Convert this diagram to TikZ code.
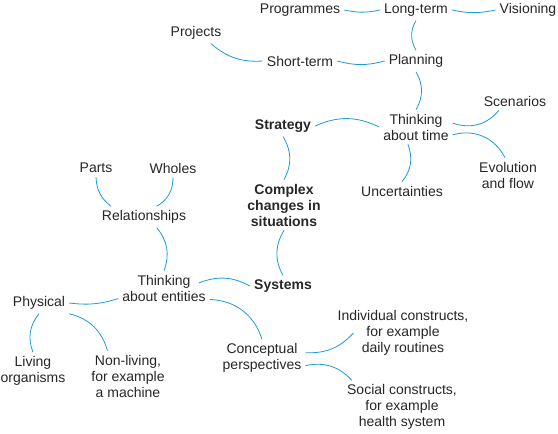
\documentclass[tikz,border=0pt]{standalone}
\usepackage{fontspec}
\setmainfont{Liberation Sans}
\usepackage{tikz}
\definecolor{linkblue}{RGB}{29,155,214}
\tikzset{
    concept/.style={align=center, inner sep=4pt, text=black!85,
        font=\fontsize{14}{16}\selectfont},
    keyconcept/.style={concept, font=\fontsize{14}{16}\selectfont\bfseries},
    link/.style={draw=linkblue, line width=0.8pt}
}
\newcommand{\drawV}[5][concept]{
    \node[#1] (#4) at (#2,-#3) {#5};
}
\newcommand{\drawE}[3][0]{
    \draw[link, bend left=#1] (#2) to (#3);
}

\begin{document}
\begin{tikzpicture}[x=1pt, y=1pt]
        \useasboundingbox (0,0) rectangle (558,-434);
        % Time branch
        \drawV{300}{10}{Programmes}{Programmes}
        \drawV{416}{10}{LongTerm}{Long-term}
        \drawV{528}{10}{Visioning}{Visioning}
        \drawV{196}{33}{Projects}{Projects}
        \drawV{300}{61}{ShortTerm}{Short-term}
        \drawV{416}{61}{Planning}{Planning}
        \drawV{515}{101}{Scenarios}{Scenarios}
        \drawV{416}{127}{TTime}{Thinking\\about time}
        \drawV{508}{175}{Evolution}{Evolution\\and flow}
        \drawV{402}{191}{Uncertainties}{Uncertainties}
        % Key ideas
        \drawV[keyconcept]{283}{126}{Strategy}{Strategy}
        \drawV[keyconcept]{284}{205}{Complex}{Complex\\changes in\\situations}
        \drawV[keyconcept]{283}{286}{Systems}{Systems}
        % Entities branch
        \drawV{96}{168}{Parts}{Parts}
        \drawV{173}{168}{Wholes}{Wholes}
        \drawV{144}{217}{Relationships}{Relationships}
        \drawV{164}{288}{TEntities}{Thinking\\about entities}
        \drawV{39}{303}{Physical}{Physical}
        \drawV{33}{371}{Living}{Living\\organisms}
        \drawV{128}{376}{NonLiving}{Non-living,\\for example\\a machine}
        \drawV{262}{358}{Conceptual}{Conceptual\\perspectives}
        \drawV{403}{333}{Individual}{Individual constructs,\\for example\\daily routines}
        \drawV{402}{407}{Social}{Social constructs,\\for example\\health system}
        % Connectors, time branch
        \drawE[-12]{Programmes.east}{LongTerm.west}
        \drawE[-12]{LongTerm.east}{Visioning.west}
        \drawE[-30]{LongTerm.south}{Planning.north}
        \drawE[-22]{[xshift=15pt]Projects.south}{ShortTerm.west}
        \drawE[-15]{ShortTerm.east}{Planning.west}
        \drawE[30]{Planning.south}{TTime.north}
        \drawE[-35]{TTime.6}{Scenarios.-150}
        \drawE[40]{TTime.-12}{Evolution.100}
        \drawE[30]{TTime.-115}{Uncertainties.north}
        % Connectors, key ideas
        \drawE[25]{Strategy.east}{TTime.west}
        \drawE[30]{Strategy.south}{Complex.north}
        \drawE[-30]{Complex.south}{Systems.north}
        \drawE[25]{[xshift=-11pt,yshift=5pt]TEntities.east}{Systems.west}
        % Connectors, entities branch
        \drawE[-25]{Parts.south}{Relationships.162}
        \drawE[30]{Wholes.south}{Relationships.40}
        \drawE[30]{Relationships.-40}{TEntities.north}
        \drawE[12]{TEntities.-167}{Physical.east}
        \drawE[-30]{Physical.south}{Living.north}
        \drawE[30]{Physical.south east}{NonLiving.129}
        \drawE[35]{TEntities.-14}{Conceptual.north}
        \drawE[-25]{Conceptual.7}{[xshift=20pt]Individual.west}
        \drawE[30]{Conceptual.-10}{Social.152}
        
    \end{tikzpicture}
\end{document}
